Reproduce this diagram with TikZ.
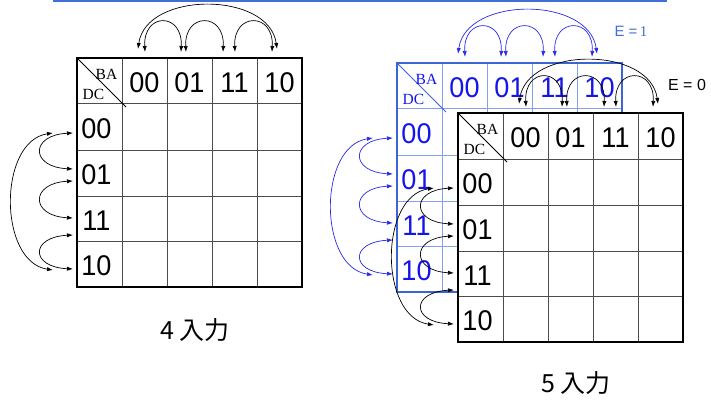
\documentclass[tikz,border=0pt]{standalone}
\usepackage{fontspec}
\setmainfont{Liberation Sans}
\newfontfamily\serifx{Liberation Serif}
\newfontfamily\cjkx{Noto Sans CJK JP}
\newfontfamily\digitx[FakeStretch=0.95]{Liberation Sans}
\usetikzlibrary{arrows.meta}
\definecolor{linkblue}{RGB}{66,110,215}
\definecolor{kblue}{RGB}{20,20,235}
\definecolor{gridblue}{RGB}{130,160,235}
\definecolor{frameblue}{RGB}{60,100,215}
\definecolor{arcblue}{RGB}{40,40,235}
\tikzset{
  cell/.style={font=\digitx\fontsize{28.5}{28.5}\selectfont, inner sep=0pt},
  corner/.style={font=\serifx\fontsize{15.5}{15.5}\selectfont, inner sep=0pt},
  arcline/.style={line width=0.7pt, {Latex[length=6pt,width=4.2pt]}-{Latex[length=6pt,width=4.2pt]}},
}
% #1 prefix, #2 x, #3 y, #4 frame colour, #5 grid colour, #6 text colour, #7 arc colour, #8 frame width
\newcommand\kmapdraw[8]{%
\begin{scope}[shift={(#2,#3)}]
  \coordinate (#1-t1) at (68,-6);  \coordinate (#1-t2) at (104,-6);
  \coordinate (#1-t3) at (109,-6); \coordinate (#1-t4) at (146,-6);
  \coordinate (#1-t5) at (158,-6); \coordinate (#1-t6) at (195,-6);
  \coordinate (#1-t7) at (61,-9);  \coordinate (#1-t8) at (200,-9);
  \coordinate (#1-l1) at (-4,75);  \coordinate (#1-l2) at (-4,111);
  \coordinate (#1-l3) at (-4,123); \coordinate (#1-l4) at (-4,160);
  \coordinate (#1-l5) at (-4,177); \coordinate (#1-l6) at (-4,211);
  \coordinate (#1-l7) at (-24,75); \coordinate (#1-l8) at (-24,212);
  \draw[arcline,#7] (#1-t1) .. controls +(-2,-40) and +(2,-40) .. (#1-t2);
  \draw[arcline,#7] (#1-t3) .. controls +(-2,-40) and +(2,-40) .. (#1-t4);
  \draw[arcline,#7] (#1-t5) .. controls +(-2,-40) and +(2,-40) .. (#1-t6);
  \draw[arcline,#7] (#1-t7) .. controls +(8,-58) and +(-8,-58) .. (#1-t8);
  \draw[arcline,#7] (#1-l1) .. controls +(-43,2) and +(-43,-2) .. (#1-l2);
  \draw[arcline,#7] (#1-l3) .. controls +(-43,2) and +(-43,-2) .. (#1-l4);
  \draw[arcline,#7] (#1-l5) .. controls +(-43,2) and +(-43,-2) .. (#1-l6);
  \draw[arcline,#7] (#1-l7) .. controls +(-55,8) and +(-55,-8) .. (#1-l8);
  \fill[white] (0,0) rectangle (225,229);
  \foreach \gx in {45,90,135,180} \draw[#5, line width=1pt] (\gx,0) -- (\gx,229);
  \foreach \gy in {46,92,138,183} \draw[#5, line width=1pt] (0,\gy) -- (225,\gy);
  \draw[#4, line width=0.8pt] (0,0) -- (49,49);
  \draw[#4, line width=#8] (0,0) rectangle (225,229);
  \node[corner,text=#6] (#1-ba) at (29.5,16) {BA};
  \node[corner,text=#6] (#1-dc) at (16.5,36) {DC};
  \node[cell,text=#6] (#1-c1) at (67.5,25) {00};
  \node[cell,text=#6] (#1-c2) at (112.5,25) {01};
  \node[cell,text=#6] (#1-c3) at (157.5,25) {11};
  \node[cell,text=#6] (#1-c4) at (202.5,25) {10};
  \node[cell,text=#6] (#1-r1) at (19.5,71) {00};
  \node[cell,text=#6] (#1-r2) at (19.5,117) {01};
  \node[cell,text=#6] (#1-r3) at (19.5,162.5) {11};
  \node[cell,text=#6] (#1-r4) at (19.5,208) {10};
\end{scope}}
\begin{document}
\begin{tikzpicture}[x=1pt,y=-1pt]
  \useasboundingbox (0,0) rectangle (711,401);
  \fill[white] (0,0) rectangle (711,401);
  \draw[linkblue, line width=3pt] (53,1) -- (667,1);
  % 4 inputs
  \kmapdraw{A}{77}{58}{black}{black!70}{black}{black}{1.8pt}
  \node[font=\cjkx\fontsize{25}{25}\selectfont, inner sep=0pt] (in4) at (195,330) {4 入力};
  % 5 inputs, E = 1
  \kmapdraw{B}{397}{63}{frameblue}{gridblue}{kblue}{arcblue}{2.8pt}
  \node[text=linkblue, font=\fontsize{15}{15}\selectfont, inner sep=0pt] (e1) at (631,31.5) {E =\,{\serifx 1}};
  % 5 inputs, E = 0
  \kmapdraw{C}{458}{113}{black}{black!70}{black}{black}{1.8pt}
  \node[font=\fontsize{16}{16}\selectfont, inner sep=0pt] (e0) at (687,85) {E = 0};
  \node[font=\cjkx\fontsize{25}{25}\selectfont, inner sep=0pt] (in5) at (576,383) {5 入力};
\end{tikzpicture}
\end{document}
